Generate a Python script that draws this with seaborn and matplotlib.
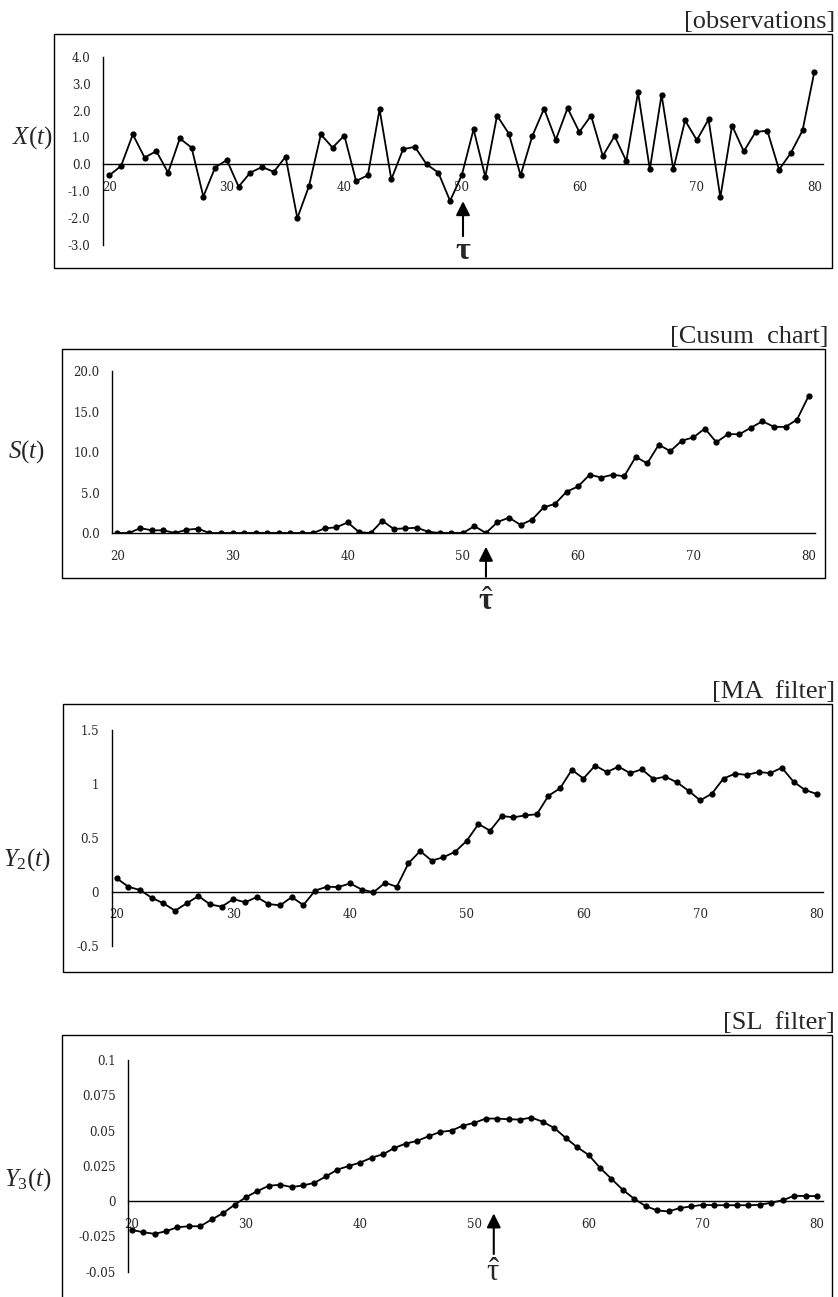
import numpy as np
import matplotlib.pyplot as plt
import seaborn as sns
from matplotlib.patches import Rectangle


t = np.arange(20, 81)

x_obs = [-0.41, -0.06, 1.11, 0.25, 0.49, -0.31, 0.96, 0.62, -1.2, -0.12,
         0.16, -0.83, -0.31, -0.1, -0.28, 0.28, -2.0, -0.8, 1.11, 0.62,
         1.07, -0.62, -0.41, 2.04, -0.56, 0.56, 0.65, 0.0, -0.31, -1.36,
         -0.4, 1.3, -0.47, 1.81, 1.14, -0.41, 1.05, 2.07, 0.91, 2.09,
         1.2, 1.81, 0.31, 1.05, 0.12, 2.68, -0.19, 2.59, -0.19, 1.63,
         0.9, 1.67, -1.23, 1.44, 0.48, 1.2, 1.25, -0.2, 0.42, 1.26, 3.43]

s_cusum = [0, 0, 0.6, 0.33, 0.33, 0, 0.4, 0.53, 0, 0,
           0, 0, 0, 0, 0, 0, 0, 0, 0.57, 0.7,
           1.3, 0.1, 0, 1.5, 0.5, 0.57, 0.65, 0.15, 0, 0,
           0, 0.85, 0, 1.35, 1.9, 1.0, 1.65, 3.15, 3.6, 5.1,
           5.75, 7.2, 6.85, 7.2, 7.0, 9.4, 8.6, 10.9, 10.1, 11.4,
           11.8, 12.9, 11.2, 12.2, 12.2, 13.0, 13.8, 13.1, 13.1, 14.0, 16.9]

y2_ma = [0.124, 0.046, 0.015, -0.056, -0.108, -0.176, -0.108, -0.04, -0.118, -0.139,
         -0.068, -0.099, -0.05, -0.114, -0.127, -0.05, -0.124, 0.01, 0.046, 0.043,
         0.077, 0.02, -0.006, 0.083, 0.046, 0.263, 0.377, 0.288, 0.32, 0.37,
         0.473, 0.628, 0.566, 0.702, 0.69, 0.708, 0.718, 0.89, 0.96, 1.13,
         1.05, 1.17, 1.11, 1.16, 1.10, 1.135, 1.045, 1.067, 1.015, 0.937,
         0.847, 0.909, 1.05, 1.095, 1.083, 1.11, 1.10, 1.15, 1.02, 0.943, 0.906]

y3_sl = [-0.0204, -0.022, -0.0232, -0.0213, -0.0185, -0.0178, -0.0178, -0.013, -0.0085, -0.0026,
         0.0028, 0.0071, 0.0109, 0.0116, 0.0100, 0.0111, 0.0130, 0.0175, 0.0223, 0.0249,
         0.0273, 0.0308, 0.0332, 0.0377, 0.0408, 0.0427, 0.046, 0.049, 0.0500, 0.0535,
         0.0555, 0.0585, 0.0585, 0.058, 0.0578, 0.0592, 0.0562, 0.0518, 0.0448, 0.0382,
         0.0328, 0.0236, 0.0158, 0.0080, 0.0016, -0.0035, -0.0066, -0.0073, -0.0049, -0.0037,
         -0.0026, -0.0029, -0.0029, -0.0029, -0.0029, -0.0026, -0.0011, 0.0006, 0.0038, 0.0036, 0.0036]

x_labels = ['20', '30', '40', '50', '60', '70', '80']
x_label_pos = [20, 30, 40, 50, 60, 70, 80]
x_minor_ticks = [24.5, 29.5, 34.5, 39.5, 44.5, 49.5, 54.5, 59.5, 64.5, 69.5, 74.5, 79.5]

obs_yticks = [-3, -2, -1, 0, 1, 2, 3, 4]
obs_ylabels = ['-3.0', '-2.0', '-1.0', '0.0', '1.0', '2.0', '3.0', '4.0']
cusum_yticks = [0, 5, 10, 15, 20]
cusum_ylabels = ['0.0', '5.0', '10.0', '15.0', '20.0']
ma_yticks = [-0.5, 0, 0.5, 1, 1.5]
ma_ylabels = ['-0.5', '0', '0.5', '1', '1.5']
sl_yticks = [-0.05, -0.025, 0, 0.025, 0.05, 0.075, 0.1]
sl_ylabels = ['-0.05', '-0.025', '0', '0.025', '0.05', '0.075', '0.1']

W, H = 838, 1297


def fig_rect(l, top, r, b):
    return [l / W, 1 - b / H, (r - l) / W, (b - top) / H]


sns.set_style('white')
plt.rcParams['font.family'] = ['DejaVu Serif']
plt.rcParams['mathtext.fontset'] = 'custom'
plt.rcParams['mathtext.rm'] = 'Liberation Serif'
plt.rcParams['mathtext.it'] = 'Liberation Serif:italic'
plt.rcParams['mathtext.bf'] = 'Liberation Serif:bold'

panels = [
    dict(y=x_obs, box=(54, 34, 832, 268), axes=(103, 56.7, 823, 245),
         xlim=(19.46, 80.74), ylim=(-3, 4), yticks=obs_yticks, ylabels=obs_ylabels,
         title='[observations]', label=r'$X(t)$', label_xy=(32, 138)),
    dict(y=s_cusum, box=(62, 349, 825, 578), axes=(112, 371, 815, 533),
         xlim=(19.54, 80.56), ylim=(0, 20), yticks=cusum_yticks, ylabels=cusum_ylabels,
         title='[Cusum  chart]', label=r'$S(t)$', label_xy=(27, 452)),
    dict(y=y2_ma, box=(63, 704, 832, 972), axes=(111.7, 730, 822.7, 945.6),
         xlim=(19.57, 80.5), ylim=(-0.5, 1.5), yticks=ma_yticks, ylabels=ma_ylabels,
         title='[MA  filter]', label=r'$Y_2(t)$', label_xy=(27, 860)),
    dict(y=y3_sl, box=(62, 1035, 832, 1302), axes=(128.3, 1060, 822.7, 1271.7),
         xlim=(19.70, 80.5), ylim=(-0.05, 0.1), yticks=sl_yticks, ylabels=sl_ylabels,
         title='[SL  filter]', label=r'$Y_3(t)$', label_xy=(28, 1180)),
]

fig = plt.figure(figsize=(W / 100, H / 100), dpi=100)
axes = []
for p in panels:
    l, top, r, b = p['box']
    fig.add_artist(Rectangle((l / W, 1 - b / H), (r - l) / W, (b - top) / H,
                             transform=fig.transFigure, fill=False, ec='black', lw=1.0))
    ax = fig.add_axes(fig_rect(*p['axes']))
    ax.patch.set_alpha(0)
    sns.lineplot(x=t, y=p['y'], ax=ax, color='black', marker='o', markersize=4.5,
                 markeredgewidth=0, linewidth=1.3)
    ax.set_xlim(p['xlim'])
    ax.set_ylim(p['ylim'])
    for side in ['top', 'right']:
        ax.spines[side].set_visible(False)
    ax.spines['bottom'].set_position(('data', 0))
    for side in ['left', 'bottom']:
        ax.spines[side].set_linewidth(1.0)
        ax.spines[side].set_color('black')
    ax.set_yticks(p['yticks'])
    ax.set_yticklabels(p['ylabels'])
    ax.set_xticks(x_label_pos)
    ax.set_xticklabels(x_labels)
    ax.set_xticks(x_minor_ticks, minor=True)
    ax.tick_params(axis='x', which='major', length=0, pad=12, labelsize=8.5)
    ax.tick_params(axis='x', which='minor', direction='in', length=4, width=1, color='black')
    ax.tick_params(axis='y', direction='in', length=4, width=1, pad=9, labelsize=8.5, color='black')
    ax.set_xlabel('')
    ax.set_ylabel('')
    fig.text((p['box'][2] + 3) / W, 1 - (p['box'][1] - 1) / H, p['title'], ha='right', va='bottom',
             fontsize=19, family='Liberation Serif')
    fig.text(p['label_xy'][0] / W, 1 - p['label_xy'][1] / H, p['label'], ha='center', va='center',
             fontsize=18)
    axes.append(ax)

arrow = dict(arrowstyle='-|>,head_length=0.6,head_width=0.3', mutation_scale=14,
             color='black', lw=1.5, shrinkA=0, shrinkB=0)

# change point markers
axes[0].annotate('', xy=(50.1, -1.37), xytext=(50.1, -2.67), arrowprops=arrow, annotation_clip=False)
axes[0].text(50.1, -3.2, r'$\mathbf{\tau}$', ha='center', va='center', fontsize=23, clip_on=False)

axes[1].annotate('', xy=(52, -1.7), xytext=(52, -5.4), arrowprops=arrow, annotation_clip=False)
axes[1].text(52, -8.4, r'$\hat{\mathbf{\tau}}$', ha='center', va='center', fontsize=22, clip_on=False)

axes[3].annotate('', xy=(51.7, -0.0087), xytext=(51.7, -0.0375), arrowprops=arrow, annotation_clip=False)
axes[3].text(51.7, -0.0505, r'$\hat{\mathrm{\tau}}$', ha='center', va='center', fontsize=22, clip_on=False)

fig.savefig('out.png', dpi=100)
